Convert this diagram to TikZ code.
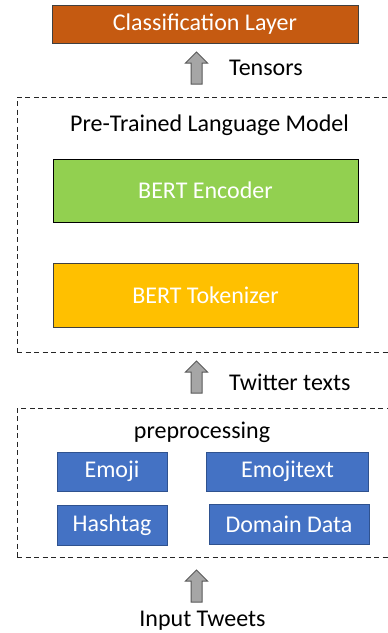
\documentclass[tikz,border=0pt]{standalone}
\usepackage{fontspec}
\setmainfont{Carlito}
\definecolor{clsorange}{HTML}{C55A11}
\definecolor{clsborder}{HTML}{404040}
\definecolor{bertgreen}{HTML}{92D050}
\definecolor{bertyellow}{HTML}{FFC000}
\definecolor{prepblue}{HTML}{4472C4}
\definecolor{prepborder}{HTML}{2F528F}
\definecolor{arrowgray}{HTML}{A6A6A6}
\definecolor{arrowborder}{HTML}{595959}
\definecolor{dashgray}{HTML}{262626}
\tikzset{
  every node/.style={font=\fontsize{24}{28}\selectfont},
  solidbox/.style={draw=clsborder, line width=1pt, text=white, inner sep=0pt},
  prepbox/.style={draw=prepborder, fill=prepblue, line width=1pt, text=white, inner sep=0pt},
  dashbox/.style={draw=dashgray, dash pattern=on 5pt off 3.5pt, line width=1pt, inner sep=0pt},
  blockarrow/.style={draw=arrowborder, fill=arrowgray, line width=1pt, line join=miter},
  plain/.style={inner sep=0pt, text=black}
}
% block arrow pointing up; #1 = name of bottom-centre coordinate
\newcommand{\blkarrowup}[1]{%
  \filldraw[blockarrow] (#1) ++(-5.5,0) -- ++(0,-21) -- ++(-5.5,0) -- ++(11,-11)
    -- ++(11,11) -- ++(-5.5,0) -- ++(0,21) -- cycle;}
\begin{document}
\begin{tikzpicture}[x=1pt,y=-1pt]
\useasboundingbox (0,0) rectangle (388,633);
% top
\node[solidbox, fill=clsorange, minimum width=306pt, minimum height=38pt] (cls) at (205,24) {Classification Layer};
\coordinate (a1) at (196.5,84);
\blkarrowup{a1}
\node[plain, anchor=west] (tensors) at (229,68) {Tensors};
% PLM
\node[dashbox, minimum width=372pt, minimum height=255pt] (plm) at (203,224.5) {};
\node[plain] (plmlabel) at (209.5,125) {Pre-Trained Language Model};
\node[solidbox, fill=bertgreen, draw=black, minimum width=305pt, minimum height=63pt] (enc) at (205.5,190.5) {BERT Encoder};
\node[solidbox, fill=bertyellow, minimum width=305pt, minimum height=64pt] (tok) at (205.5,295) {BERT Tokenizer};
\coordinate (a2) at (196.5,393);
\blkarrowup{a2}
\node[plain, anchor=west] (twitter) at (229,382) {Twitter texts};
% preprocessing
\node[dashbox, minimum width=372pt, minimum height=149pt] (prep) at (203,482.5) {};
\node[plain] (preplabel) at (202,432) {preprocessing};
\node[prepbox, minimum width=110pt, minimum height=39pt] (emoji) at (112,471.5) {Emoji};
\node[prepbox, minimum width=162pt, minimum height=39pt] (emojitext) at (287.5,471.5) {Emojitext};
\node[prepbox, minimum width=110pt, minimum height=40pt] (hashtag) at (112,525) {Hashtag};
\node[prepbox, minimum width=160pt, minimum height=40pt] (domain) at (289,524) {Domain Data};
\coordinate (a3) at (196.5,602);
\blkarrowup{a3}
\node[plain] (input) at (202.5,621) {Input Tweets};
\end{tikzpicture}
\end{document}
